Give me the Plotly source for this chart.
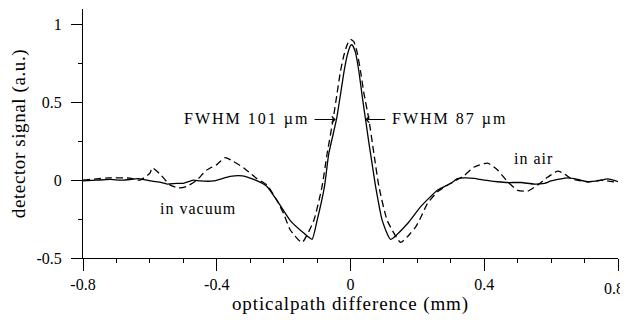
import plotly.graph_objects as go

# in vacuum (solid)
x_vac = [-0.80, -0.76, -0.72, -0.68, -0.634, -0.598, -0.565, -0.547, -0.52, -0.50, -0.47, -0.45,
         -0.41, -0.36, -0.323, -0.284, -0.25, -0.22, -0.18, -0.14, -0.115, -0.10, -0.078, -0.065,
         -0.042, -0.03, -0.02, -0.01, 0.0, 0.005, 0.015, 0.025, 0.035, 0.045, 0.055, 0.065, 0.075,
         0.095, 0.12, 0.17, 0.21, 0.26, 0.30, 0.32, 0.34, 0.37, 0.40, 0.44, 0.47, 0.51, 0.55, 0.58,
         0.60, 0.65, 0.68, 0.71, 0.74, 0.77, 0.80]
y_vac = [-0.005, 0.0, 0.005, 0.0, 0.01, -0.005, -0.015, -0.025, -0.02, -0.02, 0.0, -0.005,
         -0.005, 0.025, 0.028, 0.0, -0.04, -0.13, -0.26, -0.34, -0.38, -0.26, -0.043, 0.17,
         0.39, 0.55, 0.69, 0.80, 0.865, 0.87, 0.82, 0.70, 0.54, 0.39, 0.24, 0.10, -0.04,
         -0.26, -0.38, -0.28, -0.17, -0.065, -0.02, 0.01, 0.015, 0.012, 0.0, -0.01, -0.015, -0.015, -0.025, -0.02,
         -0.005, 0.015, 0.005, -0.01, -0.005, 0.008, -0.01]

# in air (dashed)
x_air = [-0.80, -0.72, -0.66, -0.63, -0.60, -0.593, -0.57, -0.54, -0.515, -0.49, -0.46, -0.43,
         -0.40, -0.375, -0.35, -0.32, -0.30, -0.28, -0.25, -0.22, -0.20, -0.18, -0.145, -0.11,
         -0.085, -0.07, -0.052, -0.04, -0.03, -0.02, -0.01, 0.0, 0.01, 0.02, 0.03, 0.04, 0.055,
         0.07, 0.085, 0.11, 0.15, 0.18, 0.195, 0.21, 0.23, 0.26, 0.30, 0.34, 0.37, 0.41, 0.44,
         0.47, 0.50, 0.53, 0.56, 0.59, 0.62, 0.64, 0.66, 0.71, 0.75, 0.80]
y_air = [0.0, 0.015, 0.013, 0.0, 0.045, 0.08, 0.04, -0.03, -0.05, -0.04, 0.0, 0.065,
         0.10, 0.145, 0.12, 0.08, 0.045, 0.01, -0.03, -0.13, -0.215, -0.32, -0.40, -0.26,
         -0.04, 0.17, 0.39, 0.56, 0.70, 0.80, 0.87, 0.905, 0.89, 0.82, 0.70, 0.56, 0.39,
         0.17, -0.04, -0.26, -0.40, -0.34, -0.30, -0.24, -0.15, -0.075, -0.02, 0.03, 0.085, 0.11, 0.065,
         -0.01, -0.065, -0.07, -0.03, 0.02, 0.058, 0.04, 0.01, -0.01, 0.0, -0.015]

x_ticks = [-0.8, -0.4, 0, 0.4, 0.8]
x_ticklabels = ["-0.8", "-0.4", "0", "0.4", "0.8"]
y_ticks = [-0.5, 0, 0.5, 1]
y_ticklabels = ["-0.5", "0", "0.5", "1"]

FONT = "Liberation Serif"

fig = go.Figure()
fig.add_trace(go.Scatter(x=x_vac, y=y_vac, mode="lines", line=dict(color="black", width=1.3, shape="spline", smoothing=0.5),
                         name="in vacuum", showlegend=False))
fig.add_trace(go.Scatter(x=x_air, y=y_air, mode="lines", line=dict(color="black", width=1.3, dash="7px,4px", shape="spline", smoothing=0.5),
                         name="in air", showlegend=False))

ann = [
    dict(x=-0.117, y=0.39, text='<span style="letter-spacing:2px">FWHM 101 µm</span>', xanchor="right", yanchor="middle", showarrow=False),
    dict(x=0.117, y=0.39, text='<span style="letter-spacing:2px">FWHM 87 µm</span>', xanchor="left", yanchor="middle", showarrow=False),
    dict(x=-0.457, y=-0.18, text='<span style="letter-spacing:1px">in vacuum</span>', xanchor="center", yanchor="middle", showarrow=False),
    dict(x=0.548, y=0.14, text='<span style="letter-spacing:1px">in air</span>', xanchor="center", yanchor="middle", showarrow=False),
    dict(x=-0.044, y=0.39, ax=-0.112, ay=0.39, axref="x", ayref="y", xref="x", yref="y", text="",
         showarrow=True, arrowhead=4, arrowsize=1.2, arrowwidth=1, arrowcolor="black"),
    dict(x=0.044, y=0.39, ax=0.108, ay=0.39, axref="x", ayref="y", xref="x", yref="y", text="",
         showarrow=True, arrowhead=4, arrowsize=1.2, arrowwidth=1, arrowcolor="black"),
    # last x tick label, nudged inside the page edge
    dict(x=x_ticks[-1], y=-0.5, text=x_ticklabels[-1], xanchor="right", yanchor="middle",
         xshift=8, yshift=-30, showarrow=False, font=dict(size=16)),
]
fig.update_layout(annotations=ann)

# page body adds an 8px offset, so the figure is sized 620x315
fig.update_layout(
    width=620, height=315,
    margin=dict(l=75, r=10, t=1, b=65),
    paper_bgcolor="white", plot_bgcolor="white",
    font=dict(family=FONT, size=16, color="black"),
    xaxis=dict(range=[-0.8, 0.8], tickvals=x_ticks, ticktext=x_ticklabels[:-1] + [""],
               showgrid=False, zeroline=False, showline=True, linecolor="black", linewidth=1,
               ticks="outside", ticklen=12, tickwidth=1, tickcolor="black", automargin=False,
               minor=dict(dtick=0.1, tick0=0, ticks="outside", ticklen=4, tickwidth=1, tickcolor="black"),
               title=dict(text='<span style="letter-spacing:0.9px">opticalpath difference (mm)</span>', standoff=2),
               tickfont=dict(size=16)),
    yaxis=dict(range=[-0.5, 1.1], tickvals=y_ticks, ticktext=y_ticklabels,
               showgrid=False, zeroline=False, showline=True, linecolor="black", linewidth=1,
               ticks="outside", ticklen=11, tickwidth=1, tickcolor="black", automargin=False,
               minor=dict(dtick=0.25, tick0=0, ticks="outside", ticklen=4, tickwidth=1, tickcolor="black"),
               title=dict(text='<span style="letter-spacing:0.6px">detector signal (a.u.)</span>', standoff=6),
               ticklabelstandoff=6, tickfont=dict(size=16)),
)

fig.write_html("out.html")
